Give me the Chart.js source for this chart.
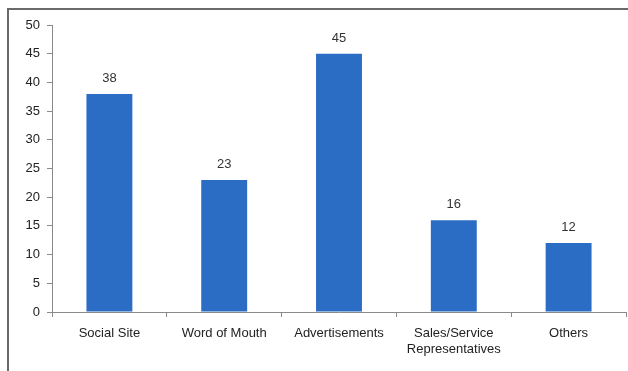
<!DOCTYPE html>
<html>
<head>
<meta charset="utf-8">
<style>
  html, body { margin: 0; padding: 0; background: #fff; }
  #wrap { width: 628px; height: 371px; position: relative; }
</style>
<script src="https://cdn.jsdelivr.net/npm/chart.js@4/dist/chart.umd.min.js"></script>
</head>
<body>
<div id="wrap"><canvas id="c" width="628" height="371"></canvas></div>
<script>
const categories = ["Social Site", "Word of Mouth", "Advertisements", ["Sales/Service", "Representatives"], "Others"];
const values = [38, 23, 45, 16, 12];
const yTicks = [0, 5, 10, 15, 20, 25, 30, 35, 40, 45, 50];

const FONT = "'Liberation Sans', Arial, sans-serif";

// Frame lines along the top and left of the chart box
const framePlugin = {
  id: 'frame',
  beforeDraw(chart) {
    const ctx = chart.ctx;
    ctx.save();
    ctx.strokeStyle = '#6a6a6a';
    ctx.lineWidth = 2;
    ctx.beginPath();
    ctx.moveTo(628, 9);
    ctx.lineTo(8, 9);
    ctx.lineTo(8, 371);
    ctx.stroke();
    ctx.restore();
  }
};

// Value written above each bar
const valueLabels = {
  id: 'valueLabels',
  afterDatasetsDraw(chart) {
    const ctx = chart.ctx;
    const meta = chart.getDatasetMeta(0);
    ctx.save();
    ctx.fillStyle = '#333';
    ctx.font = '13px ' + FONT;
    ctx.textAlign = 'center';
    ctx.textBaseline = 'alphabetic';
    meta.data.forEach((bar, i) => {
      ctx.fillText(String(values[i]), bar.x, bar.y - 12);
    });
    ctx.restore();
  }
};

new Chart(document.getElementById('c'), {
  type: 'bar',
  data: {
    labels: categories,
    datasets: [{
      data: values,
      backgroundColor: '#2b6dc4',
      borderWidth: 0,
      categoryPercentage: 1,
      barPercentage: 0.4
    }]
  },
  options: {
    responsive: false,
    animation: false,
    layout: { padding: { top: 25, right: 2, bottom: 0, left: 0 } },
    plugins: { legend: { display: false }, tooltip: { enabled: false } },
    scales: {
      x: {
        offset: true,
        grid: { offset: true, drawOnChartArea: false, drawTicks: true, tickLength: 5, color: '#8a8a8a' },
        border: { color: '#8a8a8a', width: 1 },
        ticks: { color: '#222', font: { family: FONT, size: 13 }, padding: 9, maxRotation: 0, autoSkip: false },
        afterFit(scale) { scale.height = 59; }
      },
      y: {
        min: 0, max: 50,
        afterBuildTicks(scale) { scale.ticks = yTicks.map(v => ({ value: v })); },
        grid: { drawOnChartArea: false, drawTicks: true, tickLength: 5, color: '#8a8a8a' },
        border: { color: '#8a8a8a', width: 1 },
        ticks: { color: '#222', font: { family: FONT, size: 13 }, padding: 7 },
        afterFit(scale) { scale.width = 52; }
      }
    }
  },
  plugins: [framePlugin, valueLabels]
});
</script>
</body>
</html>
